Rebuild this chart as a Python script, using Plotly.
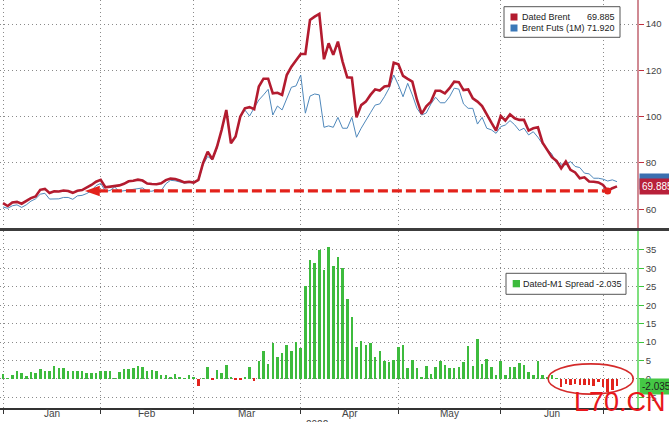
import pandas as pd
import plotly.graph_objects as go

# ---------------- data ----------------
dates = pd.bdate_range("2022-01-03", "2022-07-06")   # business days shown on the axis

dated_brent = [
    62.6, 61.4, 62.9, 63.2, 62.4, 63.6, 64.8, 65.5, 68.4, 68.8,
    67.0, 67.8, 67.7, 68.1, 67.9, 67.1, 68.0, 68.3, 69.3, 70.5,
    71.9, 72.7, 69.5, 69.8, 70.2, 70.3, 71.0, 72.1, 72.3, 72.8,
    72.4, 71.1, 70.9, 70.8, 71.2, 72.6, 73.3, 73.1, 72.4, 71.6,
    71.9, 71.5, 72.7, 79.9, 84.9, 81.6, 87.0, 94.3, 102.9, 88.5,
    91.4, 100.0, 103.6, 104.1, 103.2, 113.0, 116.4, 116.4, 110.1, 110.3,
    109.4, 118.0, 121.6, 124.5, 127.1, 127.1, 141.8, 143.2, 144.4, 124.8,
    131.7, 126.7, 132.4, 123.8, 117.0, 116.8, 99.7, 105.0, 106.5, 109.4,
    111.8, 111.3, 113.0, 113.3, 123.3, 122.6, 117.6, 116.3, 115.1, 107.2,
    101.2, 104.5, 106.5, 111.2, 111.2, 110.1, 112.3, 115.1, 114.9, 111.5,
    111.8, 107.9, 106.5, 104.6, 100.7, 97.4, 94.0, 100.3, 98.3, 101.0,
    99.3, 98.6, 98.6, 94.0, 95.0, 95.4, 88.8, 85.5, 82.5, 80.9,
    77.7, 80.6, 77.0, 75.9, 73.4, 73.8, 72.0, 71.9, 71.6, 70.5,
    67.9, 69.1, 69.885,
]

brent_futs_1m = [
    61.0, 60.4, 61.5, 61.9, 60.8, 61.9, 63.5, 64.5, 66.5, 66.9,
    64.4, 64.3, 64.5, 65.1, 65.1, 64.3, 65.8, 66.0, 66.8, 68.0,
    70.2, 71.2, 67.8, 68.1, 69.6, 67.7, 68.0, 68.3, 68.6, 68.9,
    69.2, 67.8, 67.8, 68.4, 68.0, 71.0, 72.5, 72.3, 71.9, 71.3,
    71.5, 71.5, 72.3, 79.2, 82.8, 81.4, 86.3, 94.0, 102.2, 88.8,
    91.4, 100.0, 102.9, 100.3, 103.6, 107.2, 109.4, 111.8, 100.7, 104.6,
    102.9, 107.5, 112.7, 113.3, 118.0, 101.5, 108.9, 109.8, 109.4, 95.4,
    96.0, 95.4, 99.7, 95.0, 95.0, 99.7, 91.1, 95.0, 98.6, 101.7,
    105.0, 105.5, 108.6, 112.3, 118.0, 113.7, 108.6, 114.4, 109.4, 103.6,
    100.7, 101.6, 105.5, 108.4, 106.0, 106.0, 108.6, 112.3, 111.9, 105.5,
    103.6, 103.6, 96.8, 99.7, 95.0, 94.3, 92.8, 95.7, 96.4, 98.3,
    96.5, 94.0, 95.0, 92.1, 93.5, 91.1, 88.2, 86.0, 83.8, 79.9,
    79.6, 79.2, 80.6, 78.5, 78.0, 75.6, 75.3, 73.4, 73.4, 73.0,
    72.2, 72.7, 71.92,
]

dated_m1_spread = [
    1.4, 0.2, 1.1, 2.1, 1.7, 0.9, 1.9, 1.6, 2.8, 2.3,
    2.3, 3.4, 3.1, 3.1, 2.3, 2.3, 2.1, 2.1, 1.5, 1.5,
    1.6, 2.3, 2.3, 2.3, 0.2, 1.9, 2.8, 2.8, 3.1, 3.6,
    3.3, 2.3, 2.4, 2.3, 1.0, 1.0, 0.5, 1.4, 0.6, 0.2,
    1.1, 0.3, -1.8, 0.2, 3.3, -0.3, 2.4, 1.5, 3.8, 0.6,
    -0.3, -0.3, 0.4, 3.3, -0.5, 4.8, 7.7, 4.0, 9.9, 5.9,
    7.0, 9.3, 7.7, 10.1, 8.4, 25.3, 32.3, 31.5, 35.1, 29.7,
    35.9, 30.7, 33.2, 30.0, 21.7, 16.9, 8.6, 10.4, 9.3, 9.9,
    6.1, 7.7, 5.0, 4.5, 5.2, 8.6, 9.2, 2.9, 5.2, 2.9,
    0.5, 3.6, 1.4, 3.3, 5.0, 3.8, 2.9, 2.9, 3.3, 4.7,
    9.0, 3.6, 10.8, 4.1, 5.4, 3.2, 1.2, 4.8, 1.2, 3.2,
    3.2, 4.3, 3.8, 2.0, 1.2, 4.8, 1.2, 0.5, 1.2, 0.2,
    -2.3, -1.4, -1.5, -1.4, -1.5, -1.5, -1.5, -1.8, -0.9, -2.3,
    -3.6, -3.0, -2.035,
]

month_labels = ["Jan", "Feb", "Mar", "Apr", "May", "Jun"]
year_label = "2022"
price_ticks = [60, 80, 100, 120, 140]
spread_ticks = [-5, 0, 5, 10, 15, 20, 25, 30, 35]
series_names = ["Dated Brent", "Brent Futs (1M)", "Dated-M1 Spread"]

# ---------------- derived ----------------
n = len(dates)
assert len(dated_brent) == n and len(brent_futs_1m) == n and len(dated_m1_spread) == n
idx = list(range(n))
month_starts = [i for i in idx if i == 0 or dates[i].month != dates[i - 1].month]
label_pos = [(month_starts[k] + month_starts[k + 1]) / 2 for k in range(len(month_labels))]

# ---------------- styles ----------------
W, H = 669, 422
ML, MR, MT, MB = 0, 32, 0, 14
PW, PH = W - ML - MR, H - MT - MB

def px(x):
    return (x - ML) / PW

def py(y):
    return 1 - (y - MT) / PH

RED = "#b31b2f"
BLUE = "#4f88bb"
GREEN = "#3dbb3d"
NEG = "#e2231c"
GRID = "#8a8a8a"
TXT = "#444444"
FONT = "Liberation Sans, Arial, sans-serif"

fig = go.Figure()
fig.add_trace(go.Scatter(x=idx, y=brent_futs_1m, mode="lines", name=series_names[1],
                         line=dict(color=BLUE, width=1), xaxis="x", yaxis="y"))
fig.add_trace(go.Scatter(x=idx, y=dated_brent, mode="lines", name=series_names[0],
                         line=dict(color=RED, width=2.6), xaxis="x", yaxis="y"))
fig.add_trace(go.Bar(x=idx, y=dated_m1_spread, name=series_names[2], width=0.55,
                     marker=dict(color=[GREEN if v >= 0 else NEG for v in dated_m1_spread], line_width=0),
                     xaxis="x2", yaxis="y2"))

xr = [-0.65, 136.3]
grid_common = dict(showgrid=True, gridcolor=GRID, griddash="1px,3px", gridwidth=1, zeroline=False)

fig.update_layout(
    width=W, height=H, margin=dict(l=ML, r=MR, t=MT, b=MB),
    paper_bgcolor="white", plot_bgcolor="white", showlegend=False,
    font=dict(family=FONT, size=10, color=TXT),
    bargap=0,
    xaxis=dict(domain=[0, 1], anchor="y", range=xr, tickvals=month_starts, showticklabels=False,
               ticks="", **grid_common),
    xaxis2=dict(domain=[0, 1], anchor="y2", range=xr, tickvals=month_starts,
                ticktext=[""] * len(month_starts), ticks="outside", ticklen=4, tickcolor="#333",
                showline=True, linecolor="#333", linewidth=1.5, **grid_common),
    yaxis=dict(domain=[py(228), 1], anchor="x", side="right", range=[51.9, 150.4],
               tickvals=price_ticks, ticks="outside", ticklen=5, tickcolor="#c0303f",
               showline=True, linecolor="#d08a93", linewidth=1.5,
               tickfont=dict(size=9.5, color=TXT), **grid_common),
    yaxis2=dict(domain=[0, py(231)], anchor="x2", side="right", range=[-7.87, 40.15],
                tickvals=spread_ticks, ticks="outside", ticklen=5, tickcolor="#3cc43c",
                showline=True, linecolor="#7fe07f", linewidth=1.5,
                tickfont=dict(size=9.5, color=TXT), **grid_common),
)

shapes = []
annotations = []

# separator between panels
shapes.append(dict(type="line", xref="paper", yref="paper", x0=0, x1=px(W), y0=py(229.5), y1=py(229.5),
                   line=dict(color="#3c3c3c", width=3), layer="above"))

# red dashed arrow back to January level
lvl = dated_brent[130]
arrow_tip, arrow_base, arrow_end = 17.6, 20.4, 130
shapes.append(dict(type="line", xref="x", yref="y", x0=arrow_base, x1=arrow_end, y0=lvl, y1=lvl,
                   line=dict(color="#e3221b", width=3.2, dash="10px,4px"), layer="above"))
shapes.append(dict(type="path", xref="x", yref="y",
                   path=f"M {arrow_tip},{lvl} L {arrow_base + 0.4},{lvl + 2.3} L {arrow_base + 0.4},{lvl - 2.3} Z",
                   fillcolor="#e3221b", line=dict(width=0), layer="above"))
shapes.append(dict(type="circle", xref="x", yref="y", xsizemode="pixel", ysizemode="pixel",
                   xanchor=arrow_end, yanchor=lvl, x0=-3.5, x1=3.5, y0=-3.5, y1=3.5,
                   fillcolor="#e3221b", line=dict(width=0), layer="above"))

# ellipse around negative spread bars
shapes.append(dict(type="circle", xref="x2", yref="y2", x0=117.2, x1=135.5, y0=-4.1, y1=4.1,
                   line=dict(color="#d42a2a", width=1.6), layer="above"))

# legend boxes
shapes.append(dict(type="rect", xref="paper", yref="paper", x0=px(504), x1=px(620), y0=py(37.3), y1=py(6.7),
                   fillcolor="white", line=dict(color="#555", width=1), layer="above"))
shapes.append(dict(type="rect", xref="paper", yref="paper", x0=px(510.5), x1=px(517.5), y0=py(20.5), y1=py(13.5),
                   fillcolor=RED, line=dict(width=0), layer="above"))
shapes.append(dict(type="rect", xref="paper", yref="paper", x0=px(510.5), x1=px(517.5), y0=py(31.5), y1=py(24.5),
                   fillcolor="#3b78b8", line=dict(width=0), layer="above"))
shapes.append(dict(type="rect", xref="paper", yref="paper", x0=px(506), x1=px(626), y0=py(294.3), y1=py(273.3),
                   fillcolor="white", line=dict(color="#555", width=1), layer="above"))
shapes.append(dict(type="rect", xref="paper", yref="paper", x0=px(512.7), x1=px(520), y0=py(287.3), y1=py(280),
                   fillcolor=GREEN, line=dict(width=0), layer="above"))

leg_font = dict(family=FONT, size=9, color="#222")
annotations += [
    dict(text=series_names[0], x=px(520), y=py(17), xanchor="left"),
    dict(text=f"{dated_brent[-1]:.3f}", x=px(617), y=py(17), xanchor="right"),
    dict(text=series_names[1], x=px(520), y=py(28), xanchor="left"),
    dict(text=f"{brent_futs_1m[-1]:.3f}", x=px(617), y=py(28), xanchor="right"),
    dict(text=series_names[2], x=px(521), y=py(283.7), xanchor="left"),
    dict(text=f"{dated_m1_spread[-1]:.3f}", x=px(624), y=py(283.7), xanchor="right"),
]
for a in annotations:
    a.update(xref="paper", yref="paper", yanchor="middle", showarrow=False, font=leg_font)

# last value tags on the right axis (the futures tag sits behind the Dated Brent tag)
tag = dict(xref="paper", x=1, xanchor="left", xshift=2, showarrow=False, borderpad=2, yanchor="middle")
annotations.append(dict(text=f"{brent_futs_1m[-1]:.3f}", yref="y", y=brent_futs_1m[-1], bgcolor="#3b6fb0",
                        font=dict(family=FONT, size=10, color="#3b6fb0"), **tag))
annotations.append(dict(text=f"{dated_brent[-1]:.3f}", yref="y", y=dated_brent[-1], bgcolor="#b8203a",
                        font=dict(family=FONT, size=10, color="white"), **tag))
annotations.append(dict(text=f"{dated_m1_spread[-1]:.3f}", yref="y2", y=dated_m1_spread[-1], bgcolor="#45c845",
                        font=dict(family=FONT, size=10, color="#1e1e1e"), **tag))

# month labels + year
for lab, pos in zip(month_labels, label_pos):
    annotations.append(dict(text=lab, xref="x2", x=pos, yref="paper", y=py(413.5), yanchor="middle",
                            showarrow=False, font=dict(family=FONT, size=10, color=TXT)))
annotations.append(dict(text=year_label, xref="x2", x=67.7, yref="paper", y=py(417), yanchor="top",
                        showarrow=False, font=dict(family=FONT, size=10, color=TXT)))

# watermark
annotations.append(dict(text="L70.CN", xref="paper", yref="paper", x=px(572), y=py(402),
                        xanchor="left", yanchor="middle", showarrow=False,
                        font=dict(family="Liberation Sans, Arial, sans-serif", size=27, color="#e8161b")))

fig.update_layout(shapes=shapes, annotations=annotations)
fig.write_html("out.html")
